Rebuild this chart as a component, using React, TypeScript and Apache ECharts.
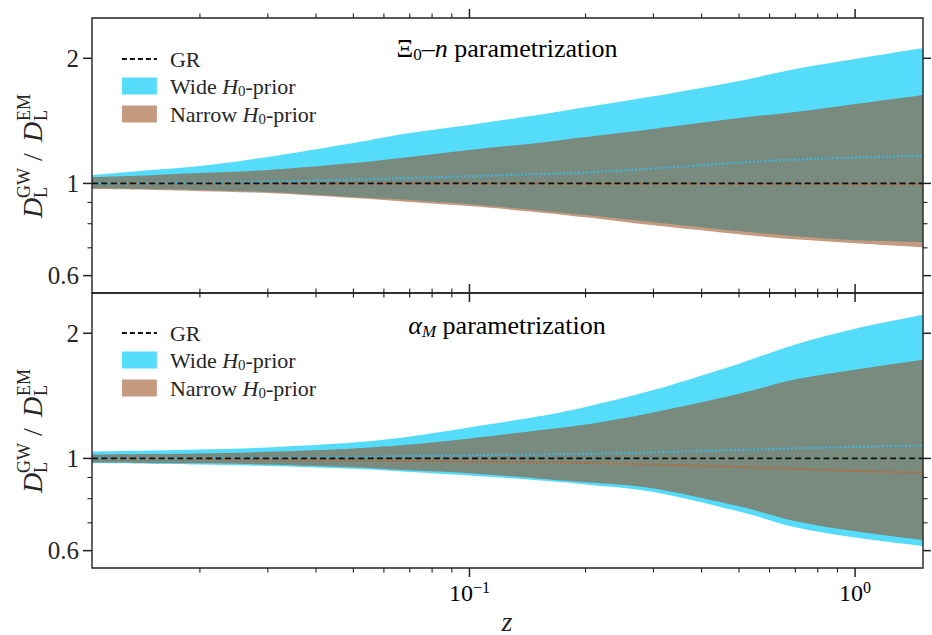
import React, { useEffect, useRef } from "react";
import * as echarts from "echarts";

// ---------- data ----------
const zValues = [0.0105, 0.015, 0.02, 0.03, 0.05, 0.07, 0.1, 0.15, 0.2, 0.3, 0.5, 0.7, 1.0, 1.5];

// Top panel: Xi0-n parametrization
const xiWideUpper = [1.047, 1.077, 1.101, 1.157, 1.251, 1.322, 1.382, 1.461, 1.525, 1.62, 1.764, 1.886, 1.993, 2.118];
const xiWideLower = [0.974, 0.969, 0.964, 0.953, 0.927, 0.912, 0.891, 0.862, 0.839, 0.807, 0.768, 0.746, 0.73, 0.722];
const xiNarrowUpper = [1.036, 1.047, 1.059, 1.077, 1.119, 1.157, 1.203, 1.251, 1.293, 1.352, 1.436, 1.485, 1.553, 1.633];
const xiNarrowLower = [0.969, 0.964, 0.958, 0.948, 0.922, 0.902, 0.882, 0.853, 0.829, 0.793, 0.755, 0.734, 0.718, 0.702];
const xiWideMedian = [1.0, 1.002, 1.004, 1.01, 1.021, 1.03, 1.041, 1.053, 1.062, 1.086, 1.122, 1.141, 1.154, 1.167];
const xiNarrowMedian = [1.0, 1.0, 1.0, 1.0, 1.0, 0.999, 0.999, 0.999, 0.998, 0.998, 0.997, 0.997, 0.996, 0.996];

// Bottom panel: alpha_M parametrization
const amWideUpper = [1.039, 1.045, 1.051, 1.063, 1.092, 1.129, 1.187, 1.261, 1.33, 1.46, 1.69, 1.88, 2.05, 2.215];
const amWideLower = [0.973, 0.97, 0.967, 0.959, 0.944, 0.928, 0.91, 0.886, 0.866, 0.83, 0.745, 0.683, 0.645, 0.615];
const amNarrowUpper = [1.022, 1.025, 1.028, 1.037, 1.057, 1.08, 1.117, 1.167, 1.206, 1.29, 1.43, 1.55, 1.635, 1.727];
const amNarrowLower = [0.978, 0.975, 0.973, 0.967, 0.952, 0.936, 0.921, 0.895, 0.876, 0.847, 0.767, 0.706, 0.668, 0.636];
const amWideMedian = [1.0, 1.0, 1.002, 1.004, 1.008, 1.014, 1.018, 1.022, 1.026, 1.034, 1.048, 1.057, 1.066, 1.074];
const amNarrowMedian = [1.0, 0.999, 0.997, 0.994, 0.99, 0.986, 0.982, 0.978, 0.975, 0.967, 0.954, 0.944, 0.933, 0.924];

// GR reference
const grRatio = [1, 1, 1, 1, 1, 1, 1, 1, 1, 1, 1, 1, 1, 1];

// ticks
const xMajorTicks = [0.1, 1];
const xMajorExponents = ["\u22121", "0"];
const xMinorTicks = [0.02, 0.03, 0.04, 0.05, 0.06, 0.07, 0.08, 0.09, 0.2, 0.3, 0.4, 0.5, 0.6, 0.7, 0.8, 0.9];
const yMajorTicks = [0.6, 1, 2];
const yMajorLabels = ["0.6", "1", "2"];
const yMinorTicks = [0.7, 0.8, 0.9];

const X_MIN = 0.0105;
const X_MAX = 1.5;
const Y_MIN = 0.545;
const Y_MAX = 2.5;

const SERIF = "Liberation Serif";
const TEXT = "#262626";
const WIDE = "#56DCFB";
const NARROW = "rgba(150,72,24,0.55)";
const SMOOTH = 0.35;

const GRID_LEFT = 92;
const GRID_W = 831;
const GRID_H = 275;
const GRID_TOPS = [18, 293];

const legendRich = {
  g: { width: 8 },
  t: { fontFamily: SERIF, fontSize: 22, color: TEXT, lineHeight: 24 },
  i: { fontFamily: SERIF, fontSize: 22, fontStyle: "italic", color: TEXT, lineHeight: 24 },
  s: { fontFamily: SERIF, fontSize: 15, color: TEXT, verticalAlign: "bottom", lineHeight: 13 },
};

const titleRich = {
  a: { fontFamily: SERIF, fontSize: 26, color: TEXT, lineHeight: 30 },
  i: { fontFamily: SERIF, fontSize: 26, fontStyle: "italic", color: TEXT, lineHeight: 30 },
  s: { fontFamily: SERIF, fontSize: 17, color: TEXT, verticalAlign: "bottom", lineHeight: 16 },
  si: { fontFamily: SERIF, fontSize: 17, fontStyle: "italic", color: TEXT, verticalAlign: "bottom", lineHeight: 16 },
};

const tickRich = {
  a: { fontFamily: SERIF, fontSize: 24, color: TEXT, lineHeight: 28 },
  s: { fontFamily: SERIF, fontSize: 16, color: TEXT, verticalAlign: "top", lineHeight: 16 },
};

// Smooth path (Catmull-Rom drawn as cubic Beziers) through the pixel points of the data
function curveThrough(pts: number[][], start: string) {
  let d = `${start}${pts[0][0]},${pts[0][1]}`;
  for (let i = 0; i < pts.length - 1; i++) {
    const p0 = pts[Math.max(0, i - 1)];
    const p1 = pts[i];
    const p2 = pts[i + 1];
    const p3 = pts[Math.min(pts.length - 1, i + 2)];
    const c1x = p1[0] + (p2[0] - p0[0]) / 6;
    const c1y = p1[1] + (p2[1] - p0[1]) / 6;
    const c2x = p2[0] - (p3[0] - p1[0]) / 6;
    const c2y = p2[1] - (p3[1] - p1[1]) / 6;
    d += ` C${c1x},${c1y} ${c2x},${c2y} ${p2[0]},${p2[1]}`;
  }
  return d;
}

function bandSeries(name: string, gi: number, lower: number[], upper: number[], color: string, z: number) {
  return {
    type: "custom",
    name,
    xAxisIndex: gi,
    yAxisIndex: gi,
    coordinateSystem: "cartesian2d",
    itemStyle: { color },
    data: [[1, 1]],
    encode: { x: 0, y: 1 },
    silent: true,
    z,
    renderItem: (_params: any, api: any) => {
      const up = zValues.map((zv, i) => api.coord([zv, upper[i]]));
      const lo = zValues.map((zv, i) => api.coord([zv, lower[i]])).reverse();
      const d = curveThrough(up, "M") + " " + curveThrough(lo, "L") + " Z";
      return { type: "path", shape: { pathData: d }, style: { fill: color } };
    },
  };
}

function lineSeries(name: string, gi: number, values: number[], color: string, width: number, dash: number[], z: number) {
  return {
    type: "line",
    name,
    xAxisIndex: gi,
    yAxisIndex: gi,
    data: zValues.map((zv, i) => [zv, values[i]]),
    symbol: "none",
    smooth: SMOOTH,
    silent: true,
    z,
    itemStyle: { color },
    lineStyle: { color, width, type: dash },
  };
}

function axesSeries(gi: number, showXLabels: boolean) {
  return {
    type: "custom",
    name: "axes" + gi,
    xAxisIndex: gi,
    yAxisIndex: gi,
    coordinateSystem: "cartesian2d",
    data: [[1, 1]],
    encode: { x: 0, y: 1 },
    silent: true,
    z: 20,
    renderItem: (_params: any, api: any) => {
      const bl = api.coord([X_MIN, Y_MIN]);
      const tr = api.coord([X_MAX, Y_MAX]);
      const x0 = bl[0], y1 = bl[1], x1 = tr[0], y0 = tr[1];
      const stroke = "#222";
      const children: any[] = [];
      children.push({
        type: "rect",
        shape: { x: x0, y: y0, width: x1 - x0, height: y1 - y0 },
        style: { fill: "none", stroke, lineWidth: 1.4 },
      });
      const hl = (x: number, yA: number, yB: number, w: number) =>
        children.push({ type: "line", shape: { x1: x, y1: yA, x2: x, y2: yB }, style: { stroke, lineWidth: w } });
      const vl = (y: number, xA: number, xB: number, w: number) =>
        children.push({ type: "line", shape: { x1: xA, y1: y, x2: xB, y2: y }, style: { stroke, lineWidth: w } });
      xMajorTicks.forEach((v, k) => {
        const px = api.coord([v, Y_MIN])[0];
        hl(px, y1, y1 + 9, 1.5);
        hl(px, y0, y0 - 9, 1.5);
        if (showXLabels) {
          children.push({
            type: "text",
            x: px,
            y: y1 + 11,
            style: {
              text: "{a|10}{s|" + xMajorExponents[k] + "}",
              rich: tickRich,
              align: "center",
              verticalAlign: "top",
            },
          });
        }
      });
      xMinorTicks.forEach((v) => {
        const px = api.coord([v, Y_MIN])[0];
        hl(px, y1, y1 + 4.5, 1.1);
        hl(px, y0, y0 - 4.5, 1.1);
      });
      yMajorTicks.forEach((v, k) => {
        const py = api.coord([X_MIN, v])[1];
        vl(py, x0, x0 - 9, 1.5);
        vl(py, x1, x1 + 8, 1.5);
        children.push({
          type: "text",
          x: x0 - 13,
          y: py,
          style: {
            text: yMajorLabels[k],
            font: `25px ${SERIF}`,
            fill: TEXT,
            align: "right",
            verticalAlign: "middle",
          },
        });
      });
      yMinorTicks.forEach((v) => {
        const py = api.coord([X_MIN, v])[1];
        vl(py, x0, x0 - 4.5, 1.1);
        vl(py, x1, x1 + 4.5, 1.1);
      });
      return { type: "group", children };
    },
  };
}

function yAxisLabel(cy: number) {
  const big = `italic 28px ${SERIF}`;
  const small = `18px ${SERIF}`;
  const mk = (text: string, x: number, y: number, font: string) => ({
    type: "text",
    x,
    y,
    style: { text, font, fill: TEXT, align: "left", verticalAlign: "middle" },
  });
  return {
    type: "group",
    x: 32,
    y: cy,
    rotation: Math.PI / 2,
    children: [
      mk("D", -63, 0, big),
      mk("GW", -43, -8, small),
      mk("L", -43, 9, small),
      mk("/", -6, 0, `28px ${SERIF}`),
      mk("D", 13, 0, big),
      mk("EM", 34, -8, small),
      mk("L", 34, 9, small),
    ],
  };
}

function legendFor(gi: number) {
  return {
    orient: "vertical",
    left: 116,
    top: gi === 0 ? 43 : 317,
    itemWidth: 35,
    itemHeight: 17,
    itemGap: 5,
    selectedMode: false,
    data: [
      { name: "GR", itemStyle: { opacity: 0 }, lineStyle: { color: "#111", width: 1.8, type: [5, 3] } },
      { name: "Wide H0-prior", icon: "rect", itemStyle: { color: WIDE } },
      { name: "Narrow H0-prior", icon: "rect", itemStyle: { color: NARROW } },
    ],
    formatter: (name: string) => {
      if (name === "GR") return "{g|}{t|GR}";
      if (name.indexOf("Wide") === 0) return "{g|}{t|Wide }{i|H}{s|0}{t|-prior}";
      return "{g|}{t|Narrow }{i|H}{s|0}{t|-prior}";
    },
    textStyle: { rich: legendRich },
  };
}

function panelSeries(
  gi: number,
  wl: number[], wu: number[], nl: number[], nu: number[], wm: number[], nm: number[]
) {
  return [
    bandSeries("Wide H0-prior", gi, wl, wu, WIDE, 2),
    bandSeries("Narrow H0-prior", gi, nl, nu, NARROW, 3),
    lineSeries("Narrow median", gi, nm, "#C4622A", 2, [1.8, 2.2], 5),
    lineSeries("Wide median", gi, wm, "#3DB7E6", 2.2, [1.8, 2], 6),
    lineSeries("GR", gi, grRatio, "#111111", 1.8, [6, 3.5], 7),
  ];
}

export default function App() {
  const ref = useRef<HTMLDivElement>(null);
  useEffect(() => {
    if (!ref.current) return;
    const chart = echarts.init(ref.current, undefined, { renderer: "svg" });
    const axisBase = {
      type: "log",
      logBase: 10,
      axisLine: { show: false },
      axisTick: { show: false },
      axisLabel: { show: false },
      splitLine: { show: false },
    };
    const option: any = {
      animation: false,
      backgroundColor: "#ffffff",
      textStyle: { fontFamily: SERIF },
      grid: GRID_TOPS.map((t) => ({ left: GRID_LEFT, top: t, width: GRID_W, height: GRID_H })),
      xAxis: [0, 1].map((i) => ({ ...axisBase, gridIndex: i, min: X_MIN, max: X_MAX })),
      yAxis: [0, 1].map((i) => ({ ...axisBase, gridIndex: i, min: Y_MIN, max: Y_MAX })),
      legend: [legendFor(0), legendFor(1)],
      graphic: [
        {
          type: "text",
          x: 507,
          y: 48,
          style: {
            text: "{a|\u039E}{s|0}{a|\u2013}{i|n}{a| parametrization}",
            rich: titleRich,
            align: "center",
            verticalAlign: "middle",
          },
        },
        {
          type: "text",
          x: 507,
          y: 325,
          style: {
            text: "{i|\u03B1}{si|M}{a| parametrization}",
            rich: titleRich,
            align: "center",
            verticalAlign: "middle",
          },
        },
        yAxisLabel(155),
        yAxisLabel(430),
        {
          type: "text",
          x: 507,
          y: 621,
          style: { text: "z", font: `italic 28px ${SERIF}`, fill: TEXT, align: "center", verticalAlign: "middle" },
        },
      ],
      series: [
        ...panelSeries(0, xiWideLower, xiWideUpper, xiNarrowLower, xiNarrowUpper, xiWideMedian, xiNarrowMedian),
        ...panelSeries(1, amWideLower, amWideUpper, amNarrowLower, amNarrowUpper, amWideMedian, amNarrowMedian),
        axesSeries(0, false),
        axesSeries(1, true),
      ],
    };
    chart.setOption(option);
    return () => chart.dispose();
  }, []);
  return (
    <div
      ref={ref}
      style={{ position: "fixed", left: 0, top: 0, width: 932, height: 635, background: "#fff" }}
    />
  );
}
